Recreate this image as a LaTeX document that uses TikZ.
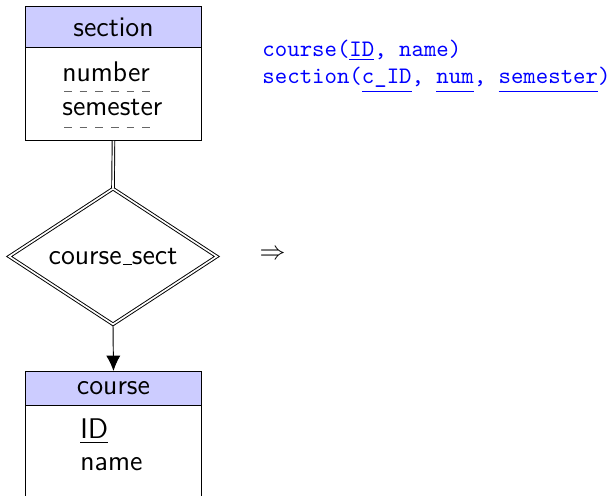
\documentclass[tikz,border=0pt]{standalone}
\usetikzlibrary{shapes.geometric,arrows.meta}
\newcommand{\px}{0.4224pt}
% short low rule used as the underscore in sans labels
\newcommand{\lowbar}{\leavevmode\kern.06em\vbox{\hrule width .3em}}
\tikzset{
  every node/.style={font=\sffamily\large},
  enthead/.style={draw, fill=blue!20, rectangle, anchor=north west, inner sep=0pt,
    minimum width=176*\px},
  entbody/.style={draw, fill=white, rectangle, anchor=north west, inner sep=0pt,
    minimum width=176*\px},
  attr/.style={anchor=base west, inner sep=0pt},
  weakkey/.style={dash pattern=on 3.3pt off 3.3pt, gray!80!black, line width=0.4pt},
  relbox/.style={draw, double, double distance=0.7pt, diamond, aspect=1.52,
    inner sep=1pt, minimum width=208*\px, minimum height=136*\px},
  schema/.style={anchor=base west, inner sep=0pt, font=\ttfamily, text=blue}
}
\newcommand{\keyul}[1]{\underline{#1\vphantom{\_}}}
\begin{document}
\begin{tikzpicture}[x=\px, y=-\px]
\useasboundingbox (0,0) rectangle (614,496);
\clip (0,0) rectangle (614,496);

% weak entity: section
\node[enthead, minimum height=41*\px] (sechead) at (25,6) {section};
\node[entbody, minimum height=93*\px] (secbody) at (25,47) {};
\node[attr] (secnum) at (62,81.5) {number};
\node[attr] (secsem) at (62,115.5) {semester};
\coordinate (d1a) at (64,91);  \coordinate (d1b) at (153,91);
\coordinate (d2a) at (64,127); \coordinate (d2b) at (153,127);
\draw[weakkey] (d1a) -- (d1b);
\draw[weakkey] (d2a) -- (d2b);

% identifying relationship
\node[relbox] (rel) at (113,256.5) {course\lowbar sect};

% strong entity: course
\node[enthead, minimum height=34*\px] (crshead) at (25,371) {course};
\node[entbody, minimum height=100*\px] (crsbody) at (25,405) {};
\node[attr] (crsid) at (80,439) {\underline{ID}};
\node[attr] (crsname) at (80,471) {name};

% connectors
\draw[double, double distance=0.7pt] (secbody.south) -- (rel.north);
\draw[-{Latex[length=6.5pt,width=6pt]}] (rel.south) -- (crshead.north);

% implication sign
\node[font=\fontsize{11}{13}\selectfont] (impl) at (272.5,255) {$\Rightarrow$};

% relational schemas
\node[schema] (s1) at (262,56.5) {course(\underline{ID}, name)};
\node[schema] (s2) at (262,84) {section(\keyul{c\_ID}, \keyul{num}, \keyul{semester})};
\end{tikzpicture}
\end{document}
